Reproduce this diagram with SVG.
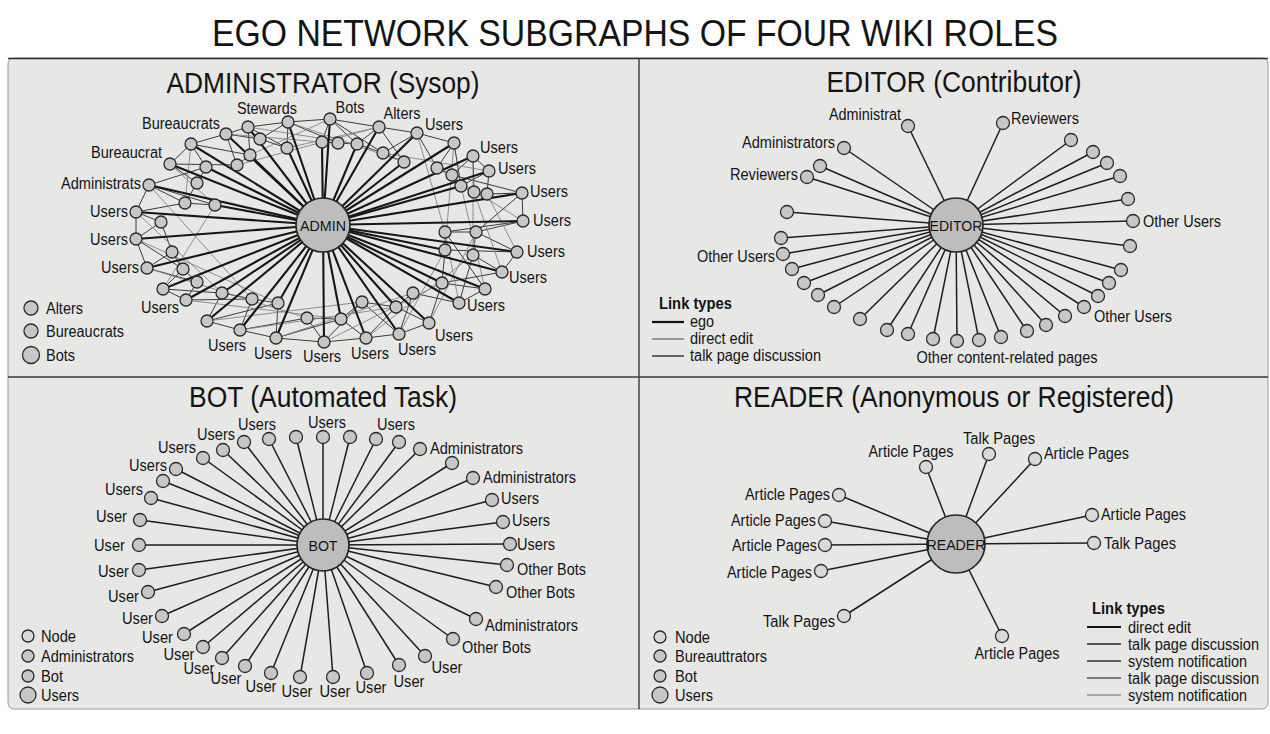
<svg xmlns="http://www.w3.org/2000/svg" width="1270" height="734" viewBox="0 0 1270 734">
<style>
.t{font-family:"Liberation Sans",Arial,sans-serif;fill:#141414}
.lb{font-size:16px}
.ttl{font-size:29px}
.cap{font-size:15.5px}
.bold{font-weight:bold}
.n{fill:#c7c7c7;stroke:#2a2a2a;stroke-width:1.3}
.nl{fill:#d9d9d9;stroke:#2a2a2a;stroke-width:1.3}
.c{fill:#bdbdbd;stroke:#262626;stroke-width:1.7}
.ego{stroke:#161616;stroke-width:2.1}
.th{stroke:#3c3c3c;stroke-width:1}
.tl{stroke:#858585;stroke-width:0.9}
.sp{stroke:#1e1e1e;stroke-width:1.5}
</style>
<rect width="1270" height="734" fill="#ffffff"/>
<text class="t" x="635" y="46" font-size="37" text-anchor="middle" textLength="846" lengthAdjust="spacingAndGlyphs">EGO NETWORK SUBGRAPHS OF FOUR WIKI ROLES</text>
<g id="panels">
<rect x="8" y="58" width="1260" height="651" rx="6" fill="#e7e7e6" stroke="#9a9a9a" stroke-width="1"/>
<line x1="8" y1="58.5" x2="1268" y2="58.5" stroke="#2e2e2e" stroke-width="1.6"/>
<line x1="8" y1="377" x2="1268" y2="377" stroke="#3a3a3a" stroke-width="1.6"/>
<line x1="639" y1="58" x2="639" y2="709" stroke="#3a3a3a" stroke-width="1.4"/>
<text class="t ttl" x="323" y="93" text-anchor="middle" textLength="313" lengthAdjust="spacingAndGlyphs">ADMINISTRATOR (Sysop)</text>
<text class="t ttl" x="954" y="92" text-anchor="middle" textLength="255" lengthAdjust="spacingAndGlyphs">EDITOR (Contributor)</text>
<text class="t ttl" x="323" y="407" text-anchor="middle" textLength="268" lengthAdjust="spacingAndGlyphs">BOT (Automated Task)</text>
<text class="t ttl" x="954" y="407" text-anchor="middle" textLength="440" lengthAdjust="spacingAndGlyphs">READER (Anonymous or Registered)</text>
</g>
<g id="connectors">
<g id="admin-thin" class="th">
<line x1="288" y1="122" x2="330" y2="119"/><line x1="330" y1="119" x2="379" y2="127"/><line x1="379" y1="127" x2="417" y2="133"/><line x1="417" y1="133" x2="454" y2="143"/>
<line x1="248" y1="127" x2="288" y2="122"/><line x1="226" y1="134" x2="248" y2="127"/><line x1="191" y1="144" x2="226" y2="134"/><line x1="170" y1="164" x2="191" y2="144"/>
<line x1="149" y1="185" x2="136" y2="212"/><line x1="136" y1="212" x2="136" y2="239"/><line x1="136" y1="239" x2="147" y2="268"/><line x1="163" y1="289" x2="186" y2="300"/>
<line x1="207" y1="321" x2="240" y2="330"/><line x1="240" y1="330" x2="276" y2="338"/><line x1="276" y1="338" x2="324" y2="342"/><line x1="324" y1="342" x2="366" y2="338"/><line x1="366" y1="338" x2="399" y2="334"/><line x1="399" y1="334" x2="429" y2="323"/>
<line x1="459" y1="303" x2="485" y2="289"/><line x1="502" y1="272" x2="517" y2="252"/><line x1="523" y1="221" x2="522" y2="193"/><line x1="489" y1="171" x2="473" y2="156"/>
<line x1="288" y1="122" x2="260" y2="139"/><line x1="288" y1="122" x2="287" y2="148"/><line x1="288" y1="122" x2="338" y2="143"/><line x1="330" y1="119" x2="322" y2="142"/><line x1="330" y1="119" x2="357" y2="144"/><line x1="330" y1="119" x2="383" y2="153"/>
<line x1="379" y1="127" x2="357" y2="144"/><line x1="379" y1="127" x2="404" y2="162"/><line x1="417" y1="133" x2="383" y2="153"/><line x1="417" y1="133" x2="437" y2="168"/><line x1="454" y1="143" x2="437" y2="168"/><line x1="454" y1="143" x2="461" y2="186"/>
<line x1="473" y1="156" x2="452" y2="175"/><line x1="473" y1="156" x2="474" y2="192"/><line x1="489" y1="171" x2="461" y2="186"/><line x1="489" y1="171" x2="487" y2="194"/><line x1="522" y1="193" x2="487" y2="194"/><line x1="522" y1="193" x2="476" y2="232"/><line x1="522" y1="193" x2="452" y2="175"/>
<line x1="523" y1="221" x2="476" y2="232"/><line x1="523" y1="221" x2="445" y2="232"/><line x1="517" y1="252" x2="476" y2="232"/><line x1="517" y1="252" x2="445" y2="250"/><line x1="502" y1="272" x2="473" y2="255"/><line x1="502" y1="272" x2="442" y2="283"/>
<line x1="485" y1="289" x2="442" y2="283"/><line x1="485" y1="289" x2="445" y2="232"/><line x1="459" y1="303" x2="413" y2="293"/><line x1="459" y1="303" x2="473" y2="255"/><line x1="429" y1="323" x2="396" y2="307"/><line x1="429" y1="323" x2="442" y2="283"/>
<line x1="399" y1="334" x2="362" y2="302"/><line x1="399" y1="334" x2="413" y2="293"/><line x1="366" y1="338" x2="341" y2="319"/><line x1="366" y1="338" x2="396" y2="307"/><line x1="324" y1="342" x2="307" y2="318"/><line x1="324" y1="342" x2="362" y2="302"/>
<line x1="276" y1="338" x2="278" y2="303"/><line x1="276" y1="338" x2="341" y2="319"/><line x1="240" y1="330" x2="252" y2="299"/><line x1="240" y1="330" x2="307" y2="318"/><line x1="207" y1="321" x2="222" y2="293"/><line x1="207" y1="321" x2="278" y2="303"/>
<line x1="186" y1="300" x2="197" y2="282"/><line x1="186" y1="300" x2="252" y2="299"/><line x1="163" y1="289" x2="183" y2="269"/><line x1="163" y1="289" x2="222" y2="293"/><line x1="147" y1="268" x2="172" y2="252"/><line x1="147" y1="268" x2="197" y2="282"/>
<line x1="136" y1="239" x2="161" y2="222"/><line x1="136" y1="239" x2="183" y2="269"/><line x1="136" y1="212" x2="161" y2="222"/><line x1="136" y1="212" x2="185" y2="203"/><line x1="149" y1="185" x2="185" y2="203"/><line x1="149" y1="185" x2="206" y2="167"/><line x1="149" y1="185" x2="215" y2="205"/>
<line x1="170" y1="164" x2="197" y2="183"/><line x1="170" y1="164" x2="237" y2="165"/><line x1="191" y1="144" x2="206" y2="167"/><line x1="191" y1="144" x2="250" y2="155"/><line x1="226" y1="134" x2="237" y2="165"/><line x1="226" y1="134" x2="260" y2="139"/><line x1="248" y1="127" x2="250" y2="155"/><line x1="248" y1="127" x2="287" y2="148"/>
<line x1="260" y1="139" x2="287" y2="148"/><line x1="322" y1="142" x2="338" y2="143"/><line x1="338" y1="143" x2="357" y2="144"/><line x1="357" y1="144" x2="383" y2="153"/><line x1="383" y1="153" x2="404" y2="162"/><line x1="250" y1="155" x2="237" y2="165"/>
<line x1="206" y1="167" x2="197" y2="183"/><line x1="197" y1="183" x2="185" y2="203"/><line x1="185" y1="203" x2="215" y2="205"/><line x1="161" y1="222" x2="172" y2="252"/><line x1="172" y1="252" x2="183" y2="269"/><line x1="183" y1="269" x2="197" y2="282"/>
<line x1="222" y1="293" x2="252" y2="299"/><line x1="252" y1="299" x2="278" y2="303"/><line x1="307" y1="318" x2="341" y2="319"/><line x1="341" y1="319" x2="362" y2="302"/><line x1="362" y1="302" x2="396" y2="307"/><line x1="396" y1="307" x2="413" y2="293"/>
<line x1="442" y1="283" x2="445" y2="250"/><line x1="445" y1="250" x2="445" y2="232"/><line x1="445" y1="232" x2="476" y2="232"/><line x1="473" y1="255" x2="476" y2="232"/><line x1="437" y1="168" x2="452" y2="175"/><line x1="452" y1="175" x2="461" y2="186"/><line x1="461" y1="186" x2="474" y2="192"/><line x1="474" y1="192" x2="487" y2="194"/>
</g>
<g id="admin-light" class="tl">
<line x1="288" y1="122" x2="404" y2="162"/><line x1="248" y1="127" x2="357" y2="144"/><line x1="226" y1="134" x2="322" y2="142"/><line x1="379" y1="127" x2="287" y2="148"/><line x1="417" y1="133" x2="445" y2="232"/><line x1="454" y1="143" x2="445" y2="250"/>
<line x1="473" y1="156" x2="473" y2="255"/><line x1="149" y1="185" x2="252" y2="299"/><line x1="136" y1="212" x2="222" y2="293"/><line x1="136" y1="239" x2="278" y2="303"/><line x1="147" y1="268" x2="307" y2="318"/><line x1="170" y1="164" x2="215" y2="205"/>
<line x1="191" y1="144" x2="185" y2="203"/><line x1="163" y1="289" x2="215" y2="205"/><line x1="186" y1="300" x2="341" y2="319"/><line x1="207" y1="321" x2="362" y2="302"/><line x1="240" y1="330" x2="396" y2="307"/><line x1="276" y1="338" x2="413" y2="293"/>
<line x1="324" y1="342" x2="442" y2="283"/><line x1="366" y1="338" x2="473" y2="255"/><line x1="399" y1="334" x2="445" y2="250"/><line x1="429" y1="323" x2="476" y2="232"/><line x1="459" y1="303" x2="445" y2="232"/><line x1="485" y1="289" x2="461" y2="186"/>
<line x1="502" y1="272" x2="474" y2="192"/><line x1="517" y1="252" x2="487" y2="194"/><line x1="523" y1="221" x2="437" y2="168"/><line x1="489" y1="171" x2="383" y2="153"/><line x1="330" y1="119" x2="250" y2="155"/><line x1="379" y1="127" x2="237" y2="165"/>
</g>
<g id="admin-ego" class="ego">
<line x1="323" y1="225" x2="288" y2="122"/><line x1="323" y1="225" x2="330" y2="119"/><line x1="323" y1="225" x2="379" y2="127"/><line x1="323" y1="225" x2="417" y2="133"/><line x1="323" y1="225" x2="454" y2="143"/><line x1="323" y1="225" x2="473" y2="156"/>
<line x1="323" y1="225" x2="489" y2="171"/><line x1="323" y1="225" x2="522" y2="193"/><line x1="323" y1="225" x2="523" y2="221"/><line x1="323" y1="225" x2="517" y2="252"/><line x1="323" y1="225" x2="502" y2="272"/><line x1="323" y1="225" x2="485" y2="289"/>
<line x1="323" y1="225" x2="459" y2="303"/><line x1="323" y1="225" x2="429" y2="323"/><line x1="323" y1="225" x2="399" y2="334"/><line x1="323" y1="225" x2="366" y2="338"/><line x1="323" y1="225" x2="324" y2="342"/><line x1="323" y1="225" x2="276" y2="338"/>
<line x1="323" y1="225" x2="240" y2="330"/><line x1="323" y1="225" x2="207" y2="321"/><line x1="323" y1="225" x2="186" y2="300"/><line x1="323" y1="225" x2="163" y2="289"/><line x1="323" y1="225" x2="147" y2="268"/><line x1="323" y1="225" x2="136" y2="239"/>
<line x1="323" y1="225" x2="136" y2="212"/><line x1="323" y1="225" x2="149" y2="185"/><line x1="323" y1="225" x2="170" y2="164"/><line x1="323" y1="225" x2="191" y2="144"/><line x1="323" y1="225" x2="226" y2="134"/><line x1="323" y1="225" x2="248" y2="127"/>
<line x1="323" y1="225" x2="287" y2="148"/><line x1="323" y1="225" x2="322" y2="142"/><line x1="323" y1="225" x2="357" y2="144"/><line x1="323" y1="225" x2="250" y2="155"/><line x1="323" y1="225" x2="206" y2="167"/><line x1="323" y1="225" x2="215" y2="205"/>
<line x1="323" y1="225" x2="222" y2="293"/><line x1="323" y1="225" x2="278" y2="303"/><line x1="323" y1="225" x2="341" y2="319"/><line x1="323" y1="225" x2="396" y2="307"/><line x1="323" y1="225" x2="442" y2="283"/><line x1="323" y1="225" x2="445" y2="250"/><line x1="323" y1="225" x2="461" y2="186"/><line x1="323" y1="225" x2="404" y2="162"/>
</g>
<g id="editor-spokes" class="sp">
<line x1="956" y1="225" x2="908" y2="126"/><line x1="956" y1="225" x2="1003" y2="123"/><line x1="956" y1="225" x2="844" y2="148"/><line x1="956" y1="225" x2="820" y2="166"/><line x1="956" y1="225" x2="807" y2="177"/>
<line x1="956" y1="225" x2="1071" y2="140"/><line x1="956" y1="225" x2="1093" y2="152"/><line x1="956" y1="225" x2="1107" y2="163"/><line x1="956" y1="225" x2="1120" y2="176"/><line x1="956" y1="225" x2="1128" y2="199"/>
<line x1="956" y1="225" x2="1133" y2="221"/><line x1="956" y1="225" x2="1130" y2="246"/><line x1="956" y1="225" x2="1121" y2="270"/><line x1="956" y1="225" x2="1109" y2="283"/><line x1="956" y1="225" x2="1098" y2="296"/><line x1="956" y1="225" x2="1084" y2="307"/>
<line x1="956" y1="225" x2="1065" y2="316"/><line x1="956" y1="225" x2="1046" y2="325"/><line x1="956" y1="225" x2="1027" y2="331"/><line x1="956" y1="225" x2="1001" y2="337"/><line x1="956" y1="225" x2="979" y2="340"/><line x1="956" y1="225" x2="957" y2="341"/>
<line x1="956" y1="225" x2="933" y2="339"/><line x1="956" y1="225" x2="908" y2="334"/><line x1="956" y1="225" x2="887" y2="330"/><line x1="956" y1="225" x2="860" y2="319"/><line x1="956" y1="225" x2="834" y2="307"/><line x1="956" y1="225" x2="818" y2="295"/>
<line x1="956" y1="225" x2="804" y2="283"/><line x1="956" y1="225" x2="792" y2="269"/><line x1="956" y1="225" x2="783" y2="254"/><line x1="956" y1="225" x2="781" y2="238"/><line x1="956" y1="225" x2="787" y2="212"/>
</g>
<g id="bot-spokes" class="sp">
<line x1="323" y1="545" x2="244" y2="442"/><line x1="323" y1="545" x2="269" y2="439"/><line x1="323" y1="545" x2="296" y2="437"/><line x1="323" y1="545" x2="323" y2="437"/><line x1="323" y1="545" x2="350" y2="437"/><line x1="323" y1="545" x2="376" y2="439"/><line x1="323" y1="545" x2="399" y2="442"/>
<line x1="323" y1="545" x2="223" y2="450"/><line x1="323" y1="545" x2="203" y2="458"/><line x1="323" y1="545" x2="176" y2="469"/><line x1="323" y1="545" x2="163" y2="481"/><line x1="323" y1="545" x2="151" y2="498"/><line x1="323" y1="545" x2="140" y2="520"/>
<line x1="323" y1="545" x2="139" y2="545"/><line x1="323" y1="545" x2="139" y2="570"/><line x1="323" y1="545" x2="148" y2="592"/><line x1="323" y1="545" x2="162" y2="616"/><line x1="323" y1="545" x2="184" y2="634"/><line x1="323" y1="545" x2="203" y2="647"/><line x1="323" y1="545" x2="222" y2="658"/>
<line x1="323" y1="545" x2="245" y2="666"/><line x1="323" y1="545" x2="271" y2="673"/><line x1="323" y1="545" x2="300" y2="677"/><line x1="323" y1="545" x2="333" y2="677"/><line x1="323" y1="545" x2="367" y2="673"/><line x1="323" y1="545" x2="399" y2="665"/><line x1="323" y1="545" x2="425" y2="656"/>
<line x1="323" y1="545" x2="420" y2="449"/><line x1="323" y1="545" x2="452" y2="463"/><line x1="323" y1="545" x2="473" y2="478"/><line x1="323" y1="545" x2="492" y2="500"/><line x1="323" y1="545" x2="503" y2="522"/><line x1="323" y1="545" x2="510" y2="544"/>
<line x1="323" y1="545" x2="507" y2="565"/><line x1="323" y1="545" x2="496" y2="587"/><line x1="323" y1="545" x2="476" y2="619"/><line x1="323" y1="545" x2="453" y2="639"/>
</g>
<g id="reader-spokes" class="sp">
<line x1="956" y1="544" x2="926" y2="467"/><line x1="956" y1="544" x2="989" y2="454"/><line x1="956" y1="544" x2="1035" y2="459"/><line x1="956" y1="544" x2="839" y2="495"/><line x1="956" y1="544" x2="825" y2="521"/><line x1="956" y1="544" x2="1092" y2="515"/>
<line x1="956" y1="544" x2="825" y2="545"/><line x1="956" y1="544" x2="1094" y2="543"/><line x1="956" y1="544" x2="821" y2="571"/><line x1="956" y1="544" x2="844" y2="616"/><line x1="956" y1="544" x2="1002" y2="636"/>
</g>
</g>
<g id="admin-nodes" class="t lb">
<g id="a-o1"><circle class="n" cx="288" cy="122" r="6"/><text x="267" y="114" text-anchor="middle" textLength="60" lengthAdjust="spacingAndGlyphs">Stewards</text></g>
<g id="a-o2"><circle class="n" cx="330" cy="119" r="6"/><text x="350" y="113" text-anchor="middle" textLength="29" lengthAdjust="spacingAndGlyphs">Bots</text></g>
<g id="a-o3"><circle class="n" cx="379" cy="127" r="6"/><text x="402" y="119" text-anchor="middle" textLength="37" lengthAdjust="spacingAndGlyphs">Alters</text></g>
<g id="a-o4"><circle class="n" cx="417" cy="133" r="6"/><text x="425" y="130" textLength="38" lengthAdjust="spacingAndGlyphs">Users</text></g>
<g id="a-o5"><circle class="n" cx="454" cy="143" r="6"/></g>
<g id="a-o6"><circle class="n" cx="473" cy="156" r="6"/><text x="480" y="153" textLength="38" lengthAdjust="spacingAndGlyphs">Users</text></g>
<g id="a-o7"><circle class="n" cx="489" cy="171" r="6"/><text x="498" y="174" textLength="38" lengthAdjust="spacingAndGlyphs">Users</text></g>
<g id="a-o8"><circle class="n" cx="522" cy="193" r="6"/><text x="530" y="197" textLength="38" lengthAdjust="spacingAndGlyphs">Users</text></g>
<g id="a-o9"><circle class="n" cx="523" cy="221" r="6"/><text x="533" y="226" textLength="38" lengthAdjust="spacingAndGlyphs">Users</text></g>
<g id="a-o10"><circle class="n" cx="517" cy="252" r="6"/><text x="527" y="257" textLength="38" lengthAdjust="spacingAndGlyphs">Users</text></g>
<g id="a-o11"><circle class="n" cx="502" cy="272" r="6"/><text x="509" y="283" textLength="38" lengthAdjust="spacingAndGlyphs">Users</text></g>
<g id="a-o12"><circle class="n" cx="485" cy="289" r="6"/></g>
<g id="a-o13"><circle class="n" cx="459" cy="303" r="6"/><text x="467" y="311" textLength="38" lengthAdjust="spacingAndGlyphs">Users</text></g>
<g id="a-o14"><circle class="n" cx="429" cy="323" r="6"/><text x="435" y="341" textLength="38" lengthAdjust="spacingAndGlyphs">Users</text></g>
<g id="a-o15"><circle class="n" cx="399" cy="334" r="6"/><text x="417" y="355" text-anchor="middle" textLength="38" lengthAdjust="spacingAndGlyphs">Users</text></g>
<g id="a-o16"><circle class="n" cx="366" cy="338" r="6"/><text x="370" y="359" text-anchor="middle" textLength="38" lengthAdjust="spacingAndGlyphs">Users</text></g>
<g id="a-o17"><circle class="n" cx="324" cy="342" r="6"/><text x="322" y="362" text-anchor="middle" textLength="38" lengthAdjust="spacingAndGlyphs">Users</text></g>
<g id="a-o18"><circle class="n" cx="276" cy="338" r="6"/><text x="273" y="359" text-anchor="middle" textLength="38" lengthAdjust="spacingAndGlyphs">Users</text></g>
<g id="a-o19"><circle class="n" cx="240" cy="330" r="6"/><text x="227" y="351" text-anchor="middle" textLength="38" lengthAdjust="spacingAndGlyphs">Users</text></g>
<g id="a-o20"><circle class="n" cx="207" cy="321" r="6"/></g>
<g id="a-o21"><circle class="n" cx="186" cy="300" r="6"/><text x="179" y="313" text-anchor="end" textLength="38" lengthAdjust="spacingAndGlyphs">Users</text></g>
<g id="a-o22"><circle class="n" cx="163" cy="289" r="6"/></g>
<g id="a-o23"><circle class="n" cx="147" cy="268" r="6"/><text x="139" y="273" text-anchor="end" textLength="38" lengthAdjust="spacingAndGlyphs">Users</text></g>
<g id="a-o24"><circle class="n" cx="136" cy="239" r="6"/><text x="128" y="245" text-anchor="end" textLength="38" lengthAdjust="spacingAndGlyphs">Users</text></g>
<g id="a-o25"><circle class="n" cx="136" cy="212" r="6"/><text x="128" y="217" text-anchor="end" textLength="38" lengthAdjust="spacingAndGlyphs">Users</text></g>
<g id="a-o26"><circle class="n" cx="149" cy="185" r="6"/><text x="141" y="189" text-anchor="end" textLength="80" lengthAdjust="spacingAndGlyphs">Administrats</text></g>
<g id="a-o27"><circle class="n" cx="170" cy="164" r="6"/><text x="162" y="158" text-anchor="end" textLength="71" lengthAdjust="spacingAndGlyphs">Bureaucrat</text></g>
<g id="a-o28"><circle class="n" cx="191" cy="144" r="6"/></g>
<g id="a-o29"><circle class="n" cx="226" cy="134" r="6"/><text x="181" y="129" text-anchor="middle" textLength="78" lengthAdjust="spacingAndGlyphs">Bureaucrats</text></g>
<g id="a-o30"><circle class="n" cx="248" cy="127" r="6"/></g>
<g id="a-i1"><circle class="n" cx="260" cy="139" r="6"/></g><g id="a-i2"><circle class="n" cx="287" cy="148" r="6"/></g><g id="a-i3"><circle class="n" cx="322" cy="142" r="6"/></g>
<g id="a-i4"><circle class="n" cx="338" cy="143" r="6"/></g><g id="a-i5"><circle class="n" cx="357" cy="144" r="6"/></g><g id="a-i6"><circle class="n" cx="383" cy="153" r="6"/></g>
<g id="a-i7"><circle class="n" cx="404" cy="162" r="6"/></g><g id="a-i8"><circle class="n" cx="250" cy="155" r="6"/></g><g id="a-i9"><circle class="n" cx="237" cy="165" r="6"/></g>
<g id="a-i10"><circle class="n" cx="206" cy="167" r="6"/></g><g id="a-i11"><circle class="n" cx="197" cy="183" r="6"/></g><g id="a-i12"><circle class="n" cx="185" cy="203" r="6"/></g>
<g id="a-i13"><circle class="n" cx="215" cy="205" r="6"/></g><g id="a-i14"><circle class="n" cx="161" cy="222" r="6"/></g><g id="a-i15"><circle class="n" cx="172" cy="252" r="6"/></g>
<g id="a-i16"><circle class="n" cx="183" cy="269" r="6"/></g><g id="a-i17"><circle class="n" cx="197" cy="282" r="6"/></g><g id="a-i18"><circle class="n" cx="222" cy="293" r="6"/></g>
<g id="a-i19"><circle class="n" cx="252" cy="299" r="6"/></g><g id="a-i20"><circle class="n" cx="278" cy="303" r="6"/></g><g id="a-i21"><circle class="n" cx="307" cy="318" r="6"/></g>
<g id="a-i22"><circle class="n" cx="341" cy="319" r="6"/></g><g id="a-i23"><circle class="n" cx="362" cy="302" r="6"/></g><g id="a-i24"><circle class="n" cx="396" cy="307" r="6"/></g>
<g id="a-i25"><circle class="n" cx="413" cy="293" r="6"/></g><g id="a-i26"><circle class="n" cx="442" cy="283" r="6"/></g><g id="a-i27"><circle class="n" cx="473" cy="255" r="6"/></g>
<g id="a-i28"><circle class="n" cx="445" cy="250" r="6"/></g><g id="a-i29"><circle class="n" cx="445" cy="232" r="6"/></g><g id="a-i30"><circle class="n" cx="476" cy="232" r="6"/></g>
<g id="a-i31"><circle class="n" cx="437" cy="168" r="6"/></g><g id="a-i32"><circle class="n" cx="452" cy="175" r="6"/></g><g id="a-i33"><circle class="n" cx="461" cy="186" r="6"/></g>
<g id="a-i34"><circle class="n" cx="474" cy="192" r="6"/></g><g id="a-i35"><circle class="n" cx="487" cy="194" r="6"/></g>
<g id="admin"><circle class="c" cx="323" cy="225" r="27"/><text class="cap" x="323" y="231" text-anchor="middle" textLength="46" lengthAdjust="spacingAndGlyphs">ADMIN</text></g>
</g>
<g id="admin-legend" class="t lb">
<g id="lg-alters"><circle class="n" cx="31" cy="308" r="7"/><text x="46" y="314" textLength="37" lengthAdjust="spacingAndGlyphs">Alters</text></g>
<g id="lg-bureaucrats"><circle class="n" cx="31" cy="331" r="7"/><text x="46" y="337" textLength="78" lengthAdjust="spacingAndGlyphs">Bureaucrats</text></g>
<g id="lg-bots"><circle class="n" cx="31" cy="355" r="8.5"/><text x="46" y="361" textLength="29" lengthAdjust="spacingAndGlyphs">Bots</text></g>
</g>
<g id="editor-nodes" class="t lb">
<g id="e1"><circle class="n" cx="908" cy="126" r="6.5"/><text x="901" y="120" text-anchor="end" textLength="72" lengthAdjust="spacingAndGlyphs">Administrat</text></g>
<g id="e2"><circle class="n" cx="1003" cy="123" r="6.5"/><text x="1011" y="124" textLength="68" lengthAdjust="spacingAndGlyphs">Reviewers</text></g>
<g id="e3"><circle class="n" cx="844" cy="148" r="6.5"/><text x="835" y="148" text-anchor="end" textLength="93" lengthAdjust="spacingAndGlyphs">Administrators</text></g>
<g id="e4"><circle class="n" cx="820" cy="166" r="6.5"/></g>
<g id="e5"><circle class="n" cx="807" cy="177" r="6.5"/><text x="798" y="180" text-anchor="end" textLength="68" lengthAdjust="spacingAndGlyphs">Reviewers</text></g>
<g id="e6"><circle class="n" cx="1071" cy="140" r="6.5"/></g><g id="e7"><circle class="n" cx="1093" cy="152" r="6.5"/></g><g id="e8"><circle class="n" cx="1107" cy="163" r="6.5"/></g>
<g id="e9"><circle class="n" cx="1120" cy="176" r="6.5"/></g><g id="e10"><circle class="n" cx="1128" cy="199" r="6.5"/></g>
<g id="e11"><circle class="n" cx="1133" cy="221" r="6.5"/><text x="1143" y="227" textLength="78" lengthAdjust="spacingAndGlyphs">Other Users</text></g>
<g id="e12"><circle class="n" cx="1130" cy="246" r="6.5"/></g><g id="e13"><circle class="n" cx="1121" cy="270" r="6.5"/></g><g id="e14"><circle class="n" cx="1109" cy="283" r="6.5"/></g><g id="e15"><circle class="n" cx="1098" cy="296" r="6.5"/></g>
<g id="e16"><circle class="n" cx="1084" cy="307" r="6.5"/><text x="1094" y="322" textLength="78" lengthAdjust="spacingAndGlyphs">Other Users</text></g>
<g id="e17"><circle class="n" cx="1065" cy="316" r="6.5"/></g><g id="e18"><circle class="n" cx="1046" cy="325" r="6.5"/></g><g id="e19"><circle class="n" cx="1027" cy="331" r="6.5"/></g>
<g id="e20"><circle class="n" cx="1001" cy="337" r="6.5"/></g><g id="e21"><circle class="n" cx="979" cy="340" r="6.5"/></g><g id="e22"><circle class="n" cx="957" cy="341" r="6.5"/></g>
<g id="e23"><circle class="n" cx="933" cy="339" r="6.5"/></g><g id="e24"><circle class="n" cx="908" cy="334" r="6.5"/></g><g id="e25"><circle class="n" cx="887" cy="330" r="6.5"/></g>
<g id="e26"><circle class="n" cx="860" cy="319" r="6.5"/></g><g id="e27"><circle class="n" cx="834" cy="307" r="6.5"/></g><g id="e28"><circle class="n" cx="818" cy="295" r="6.5"/></g>
<g id="e29"><circle class="n" cx="804" cy="283" r="6.5"/></g><g id="e30"><circle class="n" cx="792" cy="269" r="6.5"/></g>
<g id="e31"><circle class="n" cx="783" cy="254" r="6.5"/><text x="775" y="262" text-anchor="end" textLength="78" lengthAdjust="spacingAndGlyphs">Other Users</text></g>
<g id="e32"><circle class="n" cx="781" cy="238" r="6.5"/></g><g id="e33"><circle class="n" cx="787" cy="212" r="6.5"/></g>
<g id="editor"><circle class="c" cx="956" cy="225" r="27"/><text class="cap" x="956" y="231" text-anchor="middle" textLength="53" lengthAdjust="spacingAndGlyphs">EDITOR</text></g>
<text x="1007" y="363" text-anchor="middle" textLength="181" lengthAdjust="spacingAndGlyphs">Other content-related pages</text>
</g>
<g id="editor-legend" class="t lb">
<text class="bold" x="659" y="309" textLength="73" lengthAdjust="spacingAndGlyphs">Link types</text>
<line x1="652" y1="322" x2="684" y2="322" stroke="#111" stroke-width="2.2"/><text x="690" y="327" textLength="24" lengthAdjust="spacingAndGlyphs">ego</text>
<line x1="652" y1="339" x2="684" y2="339" stroke="#666" stroke-width="1.3"/><text x="690" y="344" textLength="63" lengthAdjust="spacingAndGlyphs">direct edit</text>
<line x1="652" y1="356" x2="684" y2="356" stroke="#444" stroke-width="1.6"/><text x="690" y="361" textLength="131" lengthAdjust="spacingAndGlyphs">talk page discussion</text>
</g>
<g id="bot-nodes" class="t lb">
<g id="b1"><circle class="n" cx="244" cy="442" r="6.5"/><text x="257" y="430" text-anchor="middle" textLength="38" lengthAdjust="spacingAndGlyphs">Users</text></g>
<g id="b2"><circle class="n" cx="269" cy="439" r="6.5"/></g><g id="b3"><circle class="n" cx="296" cy="437" r="6.5"/></g>
<g id="b4"><circle class="n" cx="323" cy="437" r="6.5"/><text x="327" y="428" text-anchor="middle" textLength="38" lengthAdjust="spacingAndGlyphs">Users</text></g>
<g id="b5"><circle class="n" cx="350" cy="437" r="6.5"/></g><g id="b6"><circle class="n" cx="376" cy="439" r="6.5"/></g>
<g id="b7"><circle class="n" cx="399" cy="442" r="6.5"/><text x="396" y="430" text-anchor="middle" textLength="38" lengthAdjust="spacingAndGlyphs">Users</text></g>
<g id="b8"><circle class="n" cx="223" cy="450" r="6.5"/><text x="216" y="440" text-anchor="middle" textLength="38" lengthAdjust="spacingAndGlyphs">Users</text></g>
<g id="b9"><circle class="n" cx="203" cy="458" r="6.5"/><text x="196" y="453" text-anchor="end" textLength="38" lengthAdjust="spacingAndGlyphs">Users</text></g>
<g id="b10"><circle class="n" cx="176" cy="469" r="6.5"/><text x="167" y="471" text-anchor="end" textLength="38" lengthAdjust="spacingAndGlyphs">Users</text></g>
<g id="b11"><circle class="n" cx="163" cy="481" r="6.5"/></g>
<g id="b12"><circle class="n" cx="151" cy="498" r="6.5"/><text x="143" y="495" text-anchor="end" textLength="38" lengthAdjust="spacingAndGlyphs">Users</text></g>
<g id="b13"><circle class="n" cx="140" cy="520" r="6.5"/><text x="127" y="522" text-anchor="end" textLength="31" lengthAdjust="spacingAndGlyphs">User</text></g>
<g id="b14"><circle class="n" cx="139" cy="545" r="6.5"/><text x="125" y="551" text-anchor="end" textLength="31" lengthAdjust="spacingAndGlyphs">User</text></g>
<g id="b15"><circle class="n" cx="139" cy="570" r="6.5"/><text x="129" y="577" text-anchor="end" textLength="31" lengthAdjust="spacingAndGlyphs">User</text></g>
<g id="b16"><circle class="n" cx="148" cy="592" r="6.5"/><text x="139" y="602" text-anchor="end" textLength="31" lengthAdjust="spacingAndGlyphs">User</text></g>
<g id="b17"><circle class="n" cx="162" cy="616" r="6.5"/><text x="153" y="624" text-anchor="end" textLength="31" lengthAdjust="spacingAndGlyphs">User</text></g>
<g id="b18"><circle class="n" cx="184" cy="634" r="6.5"/><text x="173" y="643" text-anchor="end" textLength="31" lengthAdjust="spacingAndGlyphs">User</text></g>
<g id="b19"><circle class="n" cx="203" cy="647" r="6.5"/><text x="179" y="660" text-anchor="middle" textLength="31" lengthAdjust="spacingAndGlyphs">User</text></g>
<g id="b20"><circle class="n" cx="222" cy="658" r="6.5"/><text x="199" y="674" text-anchor="middle" textLength="31" lengthAdjust="spacingAndGlyphs">User</text></g>
<g id="b21"><circle class="n" cx="245" cy="666" r="6.5"/><text x="226" y="684" text-anchor="middle" textLength="31" lengthAdjust="spacingAndGlyphs">User</text></g>
<g id="b22"><circle class="n" cx="271" cy="673" r="6.5"/><text x="261" y="692" text-anchor="middle" textLength="31" lengthAdjust="spacingAndGlyphs">User</text></g>
<g id="b23"><circle class="n" cx="300" cy="677" r="6.5"/><text x="297" y="697" text-anchor="middle" textLength="31" lengthAdjust="spacingAndGlyphs">User</text></g>
<g id="b24"><circle class="n" cx="333" cy="677" r="6.5"/><text x="335" y="697" text-anchor="middle" textLength="31" lengthAdjust="spacingAndGlyphs">User</text></g>
<g id="b25"><circle class="n" cx="367" cy="673" r="6.5"/><text x="371" y="693" text-anchor="middle" textLength="31" lengthAdjust="spacingAndGlyphs">User</text></g>
<g id="b26"><circle class="n" cx="399" cy="665" r="6.5"/><text x="409" y="687" text-anchor="middle" textLength="31" lengthAdjust="spacingAndGlyphs">User</text></g>
<g id="b27"><circle class="n" cx="425" cy="656" r="6.5"/><text x="447" y="673" text-anchor="middle" textLength="31" lengthAdjust="spacingAndGlyphs">User</text></g>
<g id="b28"><circle class="n" cx="420" cy="449" r="6.5"/><text x="430" y="454" textLength="93" lengthAdjust="spacingAndGlyphs">Administrators</text></g>
<g id="b29"><circle class="n" cx="452" cy="463" r="6.5"/></g>
<g id="b30"><circle class="n" cx="473" cy="478" r="6.5"/><text x="483" y="483" textLength="93" lengthAdjust="spacingAndGlyphs">Administrators</text></g>
<g id="b31"><circle class="n" cx="492" cy="500" r="6.5"/><text x="501" y="504" textLength="38" lengthAdjust="spacingAndGlyphs">Users</text></g>
<g id="b32"><circle class="n" cx="503" cy="522" r="6.5"/><text x="512" y="526" textLength="38" lengthAdjust="spacingAndGlyphs">Users</text></g>
<g id="b33"><circle class="n" cx="510" cy="544" r="6.5"/><text x="517" y="550" textLength="38" lengthAdjust="spacingAndGlyphs">Users</text></g>
<g id="b34"><circle class="n" cx="507" cy="565" r="6.5"/><text x="517" y="575" textLength="69" lengthAdjust="spacingAndGlyphs">Other Bots</text></g>
<g id="b35"><circle class="n" cx="496" cy="587" r="6.5"/><text x="506" y="598" textLength="69" lengthAdjust="spacingAndGlyphs">Other Bots</text></g>
<g id="b36"><circle class="n" cx="476" cy="619" r="6.5"/><text x="485" y="631" textLength="93" lengthAdjust="spacingAndGlyphs">Administrators</text></g>
<g id="b37"><circle class="n" cx="453" cy="639" r="6.5"/><text x="462" y="653" textLength="69" lengthAdjust="spacingAndGlyphs">Other Bots</text></g>
<g id="bot"><circle class="c" cx="323" cy="545" r="26"/><text class="cap" x="323" y="551" text-anchor="middle" textLength="29" lengthAdjust="spacingAndGlyphs">BOT</text></g>
</g>
<g id="bot-legend" class="t lb">
<g id="bl-node"><circle class="nl" cx="28" cy="636" r="6"/><text x="41" y="642" textLength="35" lengthAdjust="spacingAndGlyphs">Node</text></g>
<g id="bl-admin"><circle class="n" cx="28" cy="656" r="6"/><text x="41" y="662" textLength="93" lengthAdjust="spacingAndGlyphs">Administrators</text></g>
<g id="bl-bot"><circle class="n" cx="28" cy="676" r="6"/><text x="41" y="682" textLength="22" lengthAdjust="spacingAndGlyphs">Bot</text></g>
<g id="bl-users"><circle class="n" cx="28" cy="695" r="8"/><text x="41" y="701" textLength="38" lengthAdjust="spacingAndGlyphs">Users</text></g>
</g>
<g id="reader-nodes" class="t lb">
<g id="r1"><circle class="nl" cx="926" cy="467" r="6.5"/><text x="911" y="457" text-anchor="middle" textLength="85" lengthAdjust="spacingAndGlyphs">Article Pages</text></g>
<g id="r2"><circle class="nl" cx="989" cy="454" r="6.5"/><text x="999" y="444" text-anchor="middle" textLength="72" lengthAdjust="spacingAndGlyphs">Talk Pages</text></g>
<g id="r3"><circle class="nl" cx="1035" cy="459" r="6.5"/><text x="1044" y="459" textLength="85" lengthAdjust="spacingAndGlyphs">Article Pages</text></g>
<g id="r4"><circle class="nl" cx="839" cy="495" r="6.5"/><text x="830" y="500" text-anchor="end" textLength="85" lengthAdjust="spacingAndGlyphs">Article Pages</text></g>
<g id="r5"><circle class="nl" cx="825" cy="521" r="6.5"/><text x="816" y="526" text-anchor="end" textLength="85" lengthAdjust="spacingAndGlyphs">Article Pages</text></g>
<g id="r6"><circle class="nl" cx="1092" cy="515" r="6.5"/><text x="1101" y="520" textLength="85" lengthAdjust="spacingAndGlyphs">Article Pages</text></g>
<g id="r7"><circle class="nl" cx="825" cy="545" r="6.5"/><text x="817" y="551" text-anchor="end" textLength="85" lengthAdjust="spacingAndGlyphs">Article Pages</text></g>
<g id="r8"><circle class="nl" cx="1094" cy="543" r="6.5"/><text x="1104" y="549" textLength="72" lengthAdjust="spacingAndGlyphs">Talk Pages</text></g>
<g id="r9"><circle class="nl" cx="821" cy="571" r="6.5"/><text x="812" y="578" text-anchor="end" textLength="85" lengthAdjust="spacingAndGlyphs">Article Pages</text></g>
<g id="r10"><circle class="nl" cx="844" cy="616" r="6.5"/><text x="835" y="627" text-anchor="end" textLength="72" lengthAdjust="spacingAndGlyphs">Talk Pages</text></g>
<g id="r11"><circle class="nl" cx="1002" cy="636" r="6.5"/><text x="1017" y="659" text-anchor="middle" textLength="85" lengthAdjust="spacingAndGlyphs">Article Pages</text></g>
<g id="reader"><circle class="c" cx="956" cy="544" r="29"/><text class="cap" x="956" y="550" text-anchor="middle" textLength="59" lengthAdjust="spacingAndGlyphs">READER</text></g>
</g>
<g id="reader-legend" class="t lb">
<g id="rl-node"><circle class="nl" cx="660" cy="637" r="6"/><text x="675" y="643" textLength="35" lengthAdjust="spacingAndGlyphs">Node</text></g>
<g id="rl-bur"><circle class="n" cx="660" cy="656" r="6"/><text x="675" y="662" textLength="92" lengthAdjust="spacingAndGlyphs">Bureauttrators</text></g>
<g id="rl-bot"><circle class="n" cx="660" cy="676" r="6"/><text x="675" y="682" textLength="22" lengthAdjust="spacingAndGlyphs">Bot</text></g>
<g id="rl-users"><circle class="n" cx="660" cy="695" r="8"/><text x="675" y="701" textLength="38" lengthAdjust="spacingAndGlyphs">Users</text></g>
<text class="bold" x="1092" y="614" textLength="73" lengthAdjust="spacingAndGlyphs">Link types</text>
<line x1="1087" y1="627" x2="1121" y2="627" stroke="#111" stroke-width="2.2"/><text x="1128" y="633" textLength="63" lengthAdjust="spacingAndGlyphs">direct edit</text>
<line x1="1087" y1="644" x2="1121" y2="644" stroke="#222" stroke-width="1.6"/><text x="1128" y="650" textLength="131" lengthAdjust="spacingAndGlyphs">talk page discussion</text>
<line x1="1087" y1="661" x2="1121" y2="661" stroke="#333" stroke-width="1.5"/><text x="1128" y="667" textLength="119" lengthAdjust="spacingAndGlyphs">system notification</text>
<line x1="1087" y1="678" x2="1121" y2="678" stroke="#555" stroke-width="1.3"/><text x="1128" y="684" textLength="131" lengthAdjust="spacingAndGlyphs">talk page discussion</text>
<line x1="1087" y1="695" x2="1121" y2="695" stroke="#666" stroke-width="1.2"/><text x="1128" y="701" textLength="119" lengthAdjust="spacingAndGlyphs">system notification</text>
</g>
</svg>
